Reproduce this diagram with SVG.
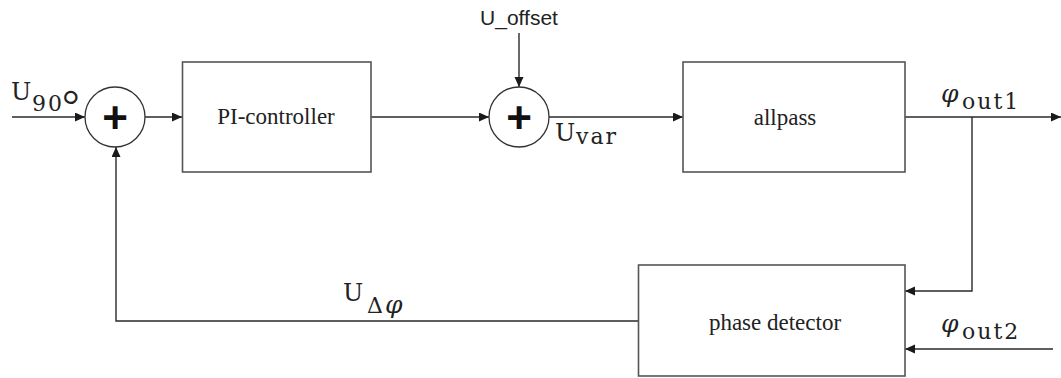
<svg xmlns="http://www.w3.org/2000/svg" width="1061" height="378" viewBox="0 0 1061 378">
<style>
.box{fill:#fff;stroke:#555;stroke-width:1.6}
.sum{fill:#fff;stroke:#333;stroke-width:1.3}
.plus{font-family:"Liberation Sans",Arial,sans-serif;font-weight:bold;font-size:44px;fill:#111;text-anchor:middle}
.lbl{font-family:"Liberation Serif","Times New Roman",serif;font-size:23px;fill:#222;text-anchor:middle}
.sans{font-family:"Liberation Sans",Arial,sans-serif;font-size:21px;fill:#222;text-anchor:middle}
.math{font-family:"DejaVu Serif",serif;font-size:21px;fill:#222}
.big{font-size:24px}
.sub{font-size:22px;letter-spacing:2px}
.phi{font-size:25px;font-style:italic}
.conn{fill:none;stroke:#2a2a2a;stroke-width:1.4}
</style>
<defs>
<marker id="ah" markerUnits="userSpaceOnUse" markerWidth="12" markerHeight="10" refX="10" refY="4.5" orient="auto">
<path d="M0,0 L10,4.5 L0,9 Z" fill="#1a1a1a"/>
</marker>
</defs>
<g id="connectors">
<line class="conn" x1="12" y1="117" x2="85" y2="117" marker-end="url(#ah)"/>
<line class="conn" x1="145" y1="117" x2="182" y2="117" marker-end="url(#ah)"/>
<line class="conn" x1="371" y1="117" x2="489" y2="117" marker-end="url(#ah)"/>
<line class="conn" x1="519" y1="33" x2="519" y2="87" marker-end="url(#ah)"/>
<line class="conn" x1="549" y1="117" x2="683" y2="117" marker-end="url(#ah)"/>
<line class="conn" x1="905" y1="117" x2="1061" y2="117" marker-end="url(#ah)"/>
<polyline class="conn" points="972,117 972,291 905,291" marker-end="url(#ah)"/>
<line class="conn" x1="1053" y1="349" x2="905" y2="349" marker-end="url(#ah)"/>
<polyline class="conn" points="638,321 116,321 116,147" marker-end="url(#ah)"/>
</g>
<g id="sum1">
<circle class="sum" cx="115" cy="117" r="30"/>
<text class="plus" x="115" y="133">+</text>
</g>
<g id="pi-controller">
<rect class="box" x="182.5" y="62" width="188.5" height="110"/>
<text class="lbl" x="276" y="124">PI-controller</text>
</g>
<g id="sum2">
<circle class="sum" cx="519" cy="117" r="30"/>
<text class="plus" x="519" y="133">+</text>
</g>
<g id="allpass">
<rect class="box" x="683" y="62" width="222" height="110"/>
<text class="lbl" x="785" y="125">allpass</text>
</g>
<g id="phase-detector">
<rect class="box" x="638.5" y="265" width="266.5" height="111"/>
<text class="lbl" x="775" y="330">phase detector</text>
</g>
<g id="labels">
<text class="sans" x="519" y="25">U_offset</text>
<text class="math"><tspan class="big" x="11" y="100">U</tspan><tspan class="sub" x="32" y="111">90</tspan><tspan x="62" y="120" style="font-family:'Liberation Serif',serif;font-size:44px">°</tspan></text>
<text class="math"><tspan class="big" x="555" y="141">U</tspan><tspan class="sub" x="576" y="144">var</tspan></text>
<text class="math"><tspan class="phi" x="941" y="102">φ</tspan><tspan class="sub" x="962" y="109">out1</tspan></text>
<text class="math"><tspan class="phi" x="941" y="332">φ</tspan><tspan class="sub" x="962" y="339">out2</tspan></text>
<text class="math"><tspan class="big" x="343" y="301">U</tspan><tspan class="sub" x="367" y="313">Δ</tspan><tspan class="phi" x="385" y="313">φ</tspan></text>
</g>
</svg>
